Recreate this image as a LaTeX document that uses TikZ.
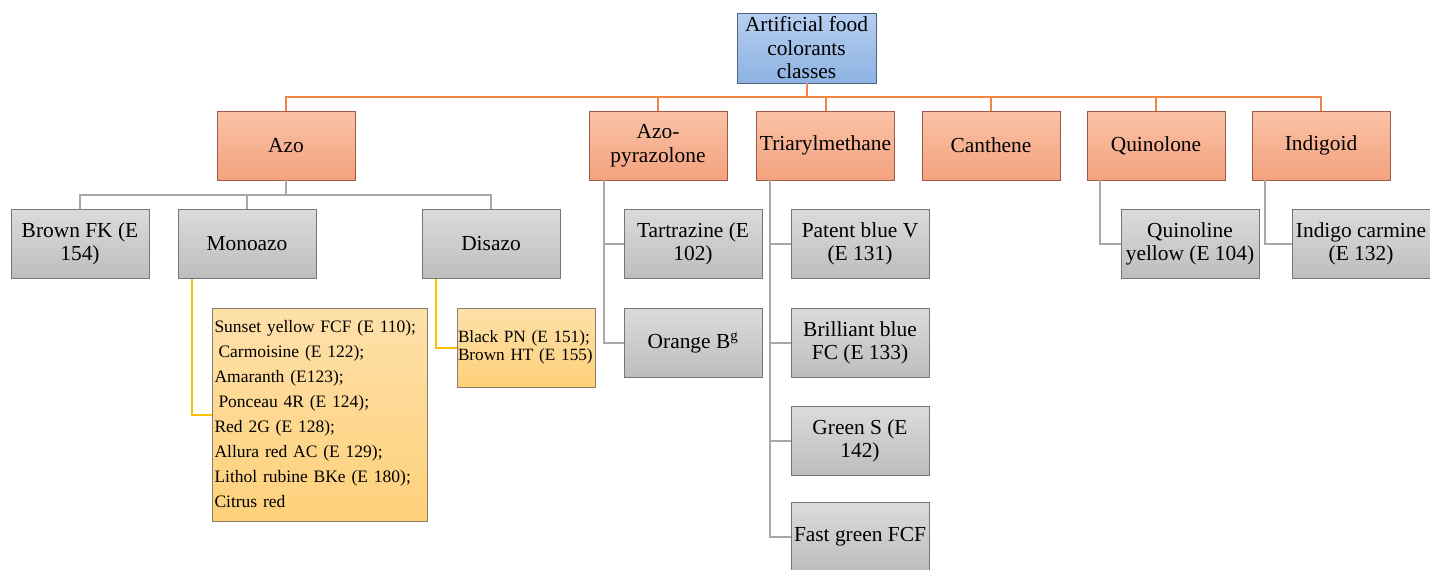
\documentclass[tikz,border=0pt]{standalone}
\usepackage{fontspec}
\setmainfont{Liberation Serif}
\definecolor{roottop}{HTML}{B6CFF1}
\definecolor{rootbot}{HTML}{8DB2E2}
\definecolor{rootline}{HTML}{4F6480}
\definecolor{ortop}{HTML}{F9C2A6}
\definecolor{orbot}{HTML}{F4A27E}
\definecolor{orline}{HTML}{9A5A46}
\definecolor{grtop}{HTML}{DBDBDB}
\definecolor{grbot}{HTML}{BDBDBD}
\definecolor{grline}{HTML}{767676}
\definecolor{ytop}{HTML}{FEE0AA}
\definecolor{ybot}{HTML}{FED17A}
\definecolor{yline}{HTML}{8A7E66}
\definecolor{orconn}{HTML}{EF8645}
\definecolor{grconn}{HTML}{A8A8A8}
\definecolor{yconn}{HTML}{FFC000}
\begin{document}
\begin{tikzpicture}[x=1pt,y=-1pt,
  box/.style={draw, rectangle, line width=0.9pt, minimum width=138pt, minimum height=69pt,
    inner sep=1pt, align=center, font=\fontsize{21.4}{23.5}\selectfont},
  rootbox/.style={box, draw=rootline, top color=roottop, bottom color=rootbot,
    minimum width=139pt, minimum height=70pt},
  classbox/.style={box, draw=orline, top color=ortop, bottom color=orbot},
  itembox/.style={box, draw=grline, top color=grtop, bottom color=grbot},
  listbox/.style={draw=yline, top color=ytop, bottom color=ybot, line width=0.9pt,
    align=left, rectangle},
  obus/.style={draw=orconn, line width=2pt},
  gbus/.style={draw=grconn, line width=2pt},
  ybus/.style={draw=yconn, line width=2pt}
]
\useasboundingbox (0,0) rectangle (1430,570);

\node[rootbox] (root) at (806.5,48) {Artificial food\\colorants\\classes};

\node[classbox] (azo)  at (286,145.5) {Azo};
\node[classbox] (azp)  at (658,145.5) {Azo-\\pyrazolone};
\node[classbox] (tri)  at (825.5,145.5) {Triarylmethane};
\node[classbox] (can)  at (991,145.5) {Canthene};
\node[classbox] (quin) at (1156,145.5) {Quinolone};
\node[classbox] (ind)  at (1321,145.5) {Indigoid};

\node[itembox] (brown) at (80,244) {Brown FK (E\\154)};
\node[itembox] (mono)  at (247,244) {Monoazo};
\node[itembox] (dis)   at (491,244) {Disazo};

\node[listbox, inner sep=2pt, text width=211pt, minimum height=213pt,
  font=\fontsize{17.5}{25}\selectfont] (sun) at (320,414.5)
  {Sunset yellow FCF (E 110);\\
   \hspace{4pt}Carmoisine (E 122);\\
   Amaranth\ (E123);\\
   \hspace{4pt}Ponceau 4R (E 124);\\
   Red 2G\ (E 128);\\
   Allura red AC\ (E 129);\\
   Lithol rubine BKe (E 180);\\
   Citrus red};
\node[listbox, inner sep=1pt, text width=136pt, minimum height=79pt,
  font=\fontsize{17.2}{18}\selectfont] (bp) at (526,347.5)
  {Black~PN~(E~151);\\Brown~HT~(E~155)};

\node[itembox] (tart) at (693,244) {Tartrazine (E\\102)};
\node[itembox] (orb)  at (693,343) {Orange B\textsuperscript{g}};

\node[itembox] (pat)  at (860,244) {Patent blue V\\(E 131)};
\node[itembox] (bril) at (860,343) {Brilliant blue\\FC (E 133)};
\node[itembox] (grs)  at (860,441) {Green S (E\\142)};
\node[itembox] (fast) at (860,537) {Fast green FCF};

\node[itembox] (quiny) at (1190,244) {Quinoline\\yellow (E 104)};
\node[itembox] (indc)  at (1361,244) {Indigo carmine\\(E 132)};

\foreach \c in {azo,azp,tri,can,quin,ind}
  \draw[obus] (root.south) -- ++(0,14) -| (\c.north);
\foreach \c in {brown,mono,dis}
  \draw[gbus] (azo.south) -- ++(0,15) -| (\c.north);
\draw[ybus] ([xshift=14pt]mono.south west) |- (sun.west);
\draw[ybus] ([xshift=14pt]dis.south west) |- (bp.west);
\foreach \c in {tart,orb}
  \draw[gbus] ([xshift=15pt]azp.south west) |- (\c.west);
\foreach \c in {pat,bril,grs,fast}
  \draw[gbus] ([xshift=14pt]tri.south west) |- (\c.west);
\draw[gbus] ([xshift=13pt]quin.south west) |- (quiny.west);
\draw[gbus] ([xshift=13pt]ind.south west) |- (indc.west);
\end{tikzpicture}
\end{document}
